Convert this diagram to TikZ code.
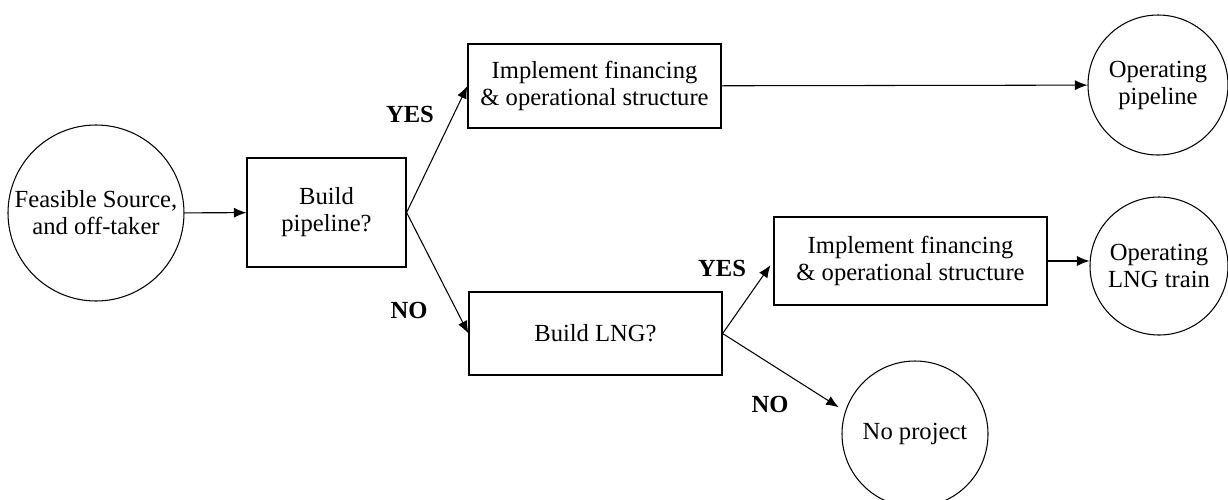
\documentclass[tikz,border=0pt]{standalone}
\usepackage{fontspec}
\setmainfont{Liberation Serif}
\usepackage{tikz}
\usetikzlibrary{positioning}
\usetikzlibrary{arrows.meta}

\begin{document}
\begin{tikzpicture}[
    decision/.style={rectangle, draw, line width=0.7pt, align=center, inner sep=0pt},
    outcome/.style={circle, draw, line width=0.6pt, align=center, inner sep=0pt},
    answer/.style={font=\fontsize{14}{15.4}\selectfont\bfseries},
    every node/.append style={font=\fontsize{14}{15.4}\selectfont},
    >={Latex[length=0.25cm,width=0.2cm]},
    scale=1
]
    \useasboundingbox (0,0) rectangle (24.56,-9.98);

    \node[outcome, minimum size=3.52cm] (src) at (1.92, -4.26) {Feasible Source,\\and off-taker};

    \node[decision, minimum width=3.18cm, minimum height=2.18cm] (q1) at (6.53, -4.25) {Build\\pipeline?};

    \node[decision, minimum width=5.06cm, minimum height=1.68cm] (impl1) at (11.89, -1.72) {Implement financing\\\& operational structure};
    \node[decision, minimum width=5.06cm, minimum height=1.66cm] (q2) at (11.91, -6.67) {Build LNG?};
    \node[decision, minimum width=5.46cm, minimum height=1.76cm] (impl2) at (18.21, -5.22) {Implement financing\\\& operational structure};

    \node[outcome, minimum size=2.80cm] (pipe) at (23.16, -1.70) {Operating\\pipeline};
    \node[outcome, minimum size=2.76cm] (lng) at (23.18, -5.32) {Operating\\LNG train};
    \node[outcome, minimum size=2.92cm] (none) at (18.30, -8.68) {No project};

    \node[answer] (yes1) at (8.20, -2.28) {YES};
    \node[answer] (no1) at (8.18, -6.20) {NO};
    \node[answer] (yes2) at (14.44, -5.36) {YES};
    \node[answer] (no2) at (15.40, -8.08) {NO};

    \draw[->, line width=0.6pt] (src) -- (q1);
    \draw[->, line width=0.6pt] (q1.east) -- (impl1.west);
    \draw[->, line width=0.6pt] (q1.east) -- (q2.west);
    \draw[->, line width=0.6pt] (impl1) -- (pipe);
    \draw[->, line width=0.6pt, shorten >=0.1cm] (q2.east) -- (impl2.west);
    \draw[->, line width=0.6pt, shorten >=0.15cm] (q2.east) -- (none.162);
    \draw[->, line width=0.6pt] (impl2.east) -- (impl2.east -| lng.west);
\end{tikzpicture}
\end{document}
